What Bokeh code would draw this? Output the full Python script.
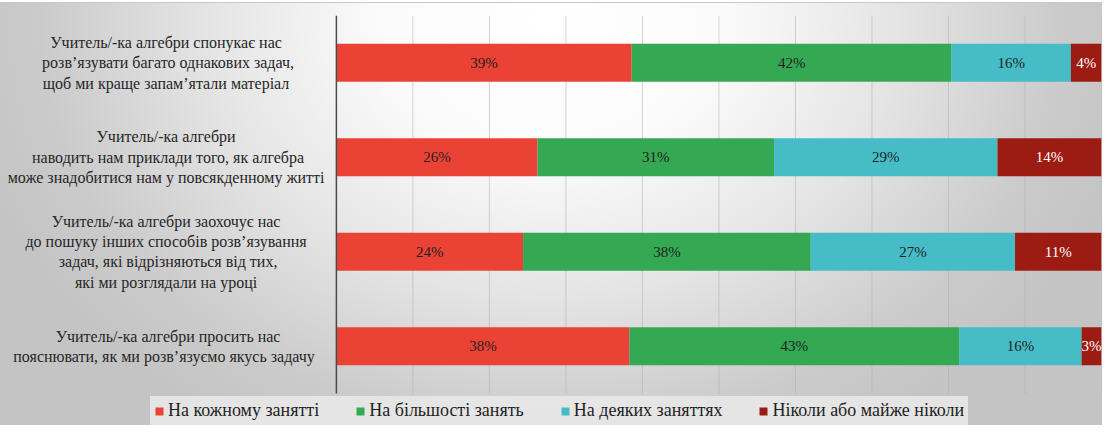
from bokeh.plotting import figure
from bokeh.models import ColumnDataSource, Range1d, Legend, LegendItem
from bokeh.core.properties import value
from bokeh.embed import file_html
from bokeh.resources import INLINE

categories = [
    "Учитель/-ка  алгебри спонукає нас\nрозв’язувати багато однакових задач,\nщоб ми краще запам’ятали  матеріал",
    "Учитель/-ка  алгебри\nнаводить нам приклади того, як алгебра\nможе знадобитися нам у повсякденному  житті",
    "Учитель/-ка алгебри заохочує  нас\nдо пошуку  інших способів розв’язування\nзадач, які відрізняються від тих,\nякі ми розглядали  на уроці",
    "Учитель/-ка алгебри просить нас\nпояснювати, як ми розв’язуємо  якусь  задачу",
]
series_names = ["На кожному занятті", "На більшості занять", "На деяких заняттях", "Ніколи або майже ніколи"]
every_lesson = [38.6, 26.3, 24.4, 38.3]
most_lessons = [41.8, 30.9, 37.6, 43.1]
some_lessons = [15.6, 29.2, 26.7, 16.0]
never_lessons = [4.0, 13.6, 11.3, 2.6]
x_ticks = [0, 10, 20, 30, 40, 50, 60, 70, 80, 90, 100]

FONT = "'Liberation Serif', 'Times New Roman', 'DejaVu Serif', serif"
colors = ["#EA4335", "#34A853", "#46BDC6", "#9C1B12"]
label_colors = ["#1f1f1f", "#1f1f1f", "#1f1f1f", "#ffffff"]
keys = ["every", "most", "some", "never"]
series = [every_lesson, most_lessons, some_lessons, never_lessons]

n = len(categories)
slot = [n - 0.5 - i for i in range(n)]  # first category at the top

data = {"slot": slot}
for k, s in zip(keys, series):
    data[k] = s
source = ColumnDataSource(data)

p = figure(width=1102, height=425, output_backend="svg", toolbar_location=None,
           x_range=Range1d(-43.9, 100), y_range=Range1d(-0.3386, n),
           min_border_left=0, min_border_right=1, min_border_top=15, min_border_bottom=0)
p.background_fill_alpha = 0
p.border_fill_alpha = 0
p.outline_line_alpha = 0
p.styles = {
    "background": "radial-gradient(ellipse 600px 480px at 551px 20px, #ffffff 0%, #fbfbfb 28%, #e4e4e4 58%, #cbcbcb 85%, #c4c4c4 100%)",
    "box-shadow": "inset 0 2px 0 #ffffff, inset 0 3px 0 #c8c8c8",
}
p.xaxis.visible = False
p.yaxis.visible = False
p.xgrid.visible = False
p.ygrid.visible = False

# vertical grid lines at the percentage ticks, spanning the category slots
p.segment(x0=x_ticks[1:], y0=[0] * (len(x_ticks) - 1), x1=x_ticks[1:], y1=[n] * (len(x_ticks) - 1),
          line_color="#b0b0b0", line_alpha=0.55, line_width=1)

renderers = p.hbar_stack(keys, y="slot", height=0.4, color=colors, source=source, line_width=0)

# segment labels
for i, (k, s) in enumerate(zip(keys, series)):
    prev = [sum(ser[j] for ser in series[:i]) for j in range(n)]
    xs = [pv + v / 2 for pv, v in zip(prev, s)]
    txt = [f"{round(v)}%" for v in s]
    p.text(x=xs, y=slot, text=txt, text_align="center", text_baseline="middle",
           text_font=value(FONT), text_font_size="15px", text_color=label_colors[i])

# vertical axis line at 0
p.segment(x0=[x_ticks[0]], y0=[0], x1=[x_ticks[0]], y1=[n], line_color="#4a4a4a", line_width=1.5)

# category labels
p.text(x=[-22.0] * n, y=slot, text=categories, text_align="center",
       text_baseline="middle", text_font=value(FONT), text_font_size="16px",
       text_color="#262626")

legend = Legend(items=[LegendItem(label=nm, renderers=[r]) for nm, r in zip(series_names, renderers)],
                orientation="horizontal", location=(150, 0))
legend.glyph_width = 10
legend.glyph_height = 10
legend.label_standoff = 4
legend.spacing = 36
legend.padding = 4
legend.margin = 0
legend.label_text_font = FONT
legend.label_text_font_size = "18px"
legend.label_text_color = "#1f1f1f"
legend.background_fill_color = "#e8e8e8"
legend.background_fill_alpha = 0.9
legend.border_line_alpha = 0
p.add_layout(legend)

open("out.html", "w").write(file_html(p, INLINE))
